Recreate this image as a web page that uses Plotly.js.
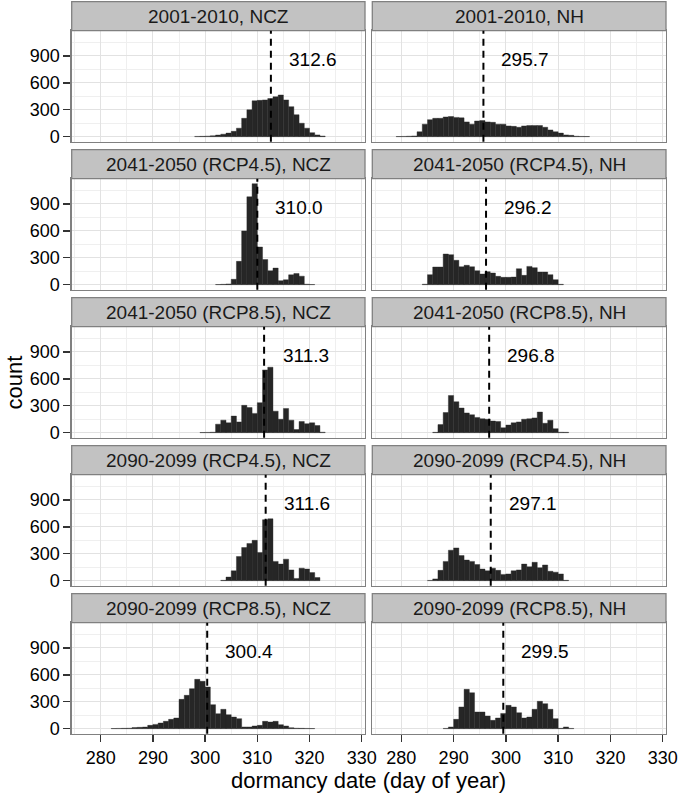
<!DOCTYPE html>
<html><head><meta charset="utf-8">
<script src="https://cdn.plot.ly/plotly-3.0.1.min.js"></script>
<style>html,body{margin:0;padding:0;background:#fff}</style>
</head><body><div id="chart" style="width:680px;height:794px"></div>
<script>
// ---- data ----
const panelTitles = ["2001-2010, NCZ","2001-2010, NH","2041-2050 (RCP4.5), NCZ","2041-2050 (RCP4.5), NH",
  "2041-2050 (RCP8.5), NCZ","2041-2050 (RCP8.5), NH","2090-2099 (RCP4.5), NCZ","2090-2099 (RCP4.5), NH",
  "2090-2099 (RCP8.5), NCZ","2090-2099 (RCP8.5), NH"];
const panelMeans = [312.6, 295.7, 310.0, 296.2, 311.3, 296.8, 311.6, 297.1, 300.4, 299.5];
const xTickVals = [280, 290, 300, 310, 320, 330];
const yTickVals = [0, 300, 600, 900];

// first day of each histogram (bin width = 1 day) and counts
const ncz2001Start = 298;
const ncz2001Counts = [3,4,6,10,18,28,40,60,95,205,300,400,405,410,425,445,465,410,335,245,150,95,45,20,7];
const nh2001Start = 279;
const nh2001Counts = [2,3,5,8,55,140,190,205,205,220,225,215,210,165,140,175,180,165,160,140,140,120,115,105,120,125,125,125,105,75,55,40,20,15,5,3,2];
const ncz4145Start = 302;
const ncz4145Counts = [2,4,8,60,260,600,980,1126,420,280,155,185,45,55,110,125,95,5,2];
const nh4145Start = 284;
const nh4145Counts = [5,112,197,197,342,335,272,200,216,200,156,119,145,130,93,82,82,85,178,104,204,190,141,141,112,56,4];
const ncz4185Start = 299;
const ncz4185Counts = [2,3,5,95,140,110,185,120,305,280,215,335,700,730,240,150,270,140,35,125,100,110,80,5];
const nh4185Start = 286;
const nh4185Counts = [4,90,225,415,345,275,220,200,170,155,150,130,125,55,85,110,120,150,155,165,230,105,140,45,5,4];
const ncz9045Start = 303;
const ncz9045Counts = [4,40,110,270,370,415,450,315,680,690,215,185,240,120,25,140,130,90,35];
const nh9045Start = 285;
const nh9045Counts = [3,20,115,215,340,365,280,230,215,180,130,110,140,115,70,75,110,120,185,155,205,145,175,105,95,75,4];
const ncz9085Start = 282;
const ncz9085Counts = [2,3,4,5,12,15,18,37,48,63,82,104,119,327,372,446,550,528,465,268,167,216,156,130,112,19,19,30,37,82,74,82,45,30,11,5,4,3,2];
const nh9085Start = 288;
const nh9085Counts = [3,19,104,242,439,401,186,186,141,93,119,170,260,242,178,119,130,216,305,279,216,112,4,19,3];

const panelStarts = [ncz2001Start, nh2001Start, ncz4145Start, nh4145Start, ncz4185Start, nh4185Start, ncz9045Start, nh9045Start, ncz9085Start, nh9085Start];
const panelCounts = [ncz2001Counts, nh2001Counts, ncz4145Counts, nh4145Counts, ncz4185Counts, nh4185Counts, ncz9045Counts, nh9045Counts, ncz9085Counts, nh9085Counts];

// ---- layout geometry (pixels) ----
const W = 680, H = 794;
const colX = [[71.7, 365], [372.3, 666]];
const stripTop0 = 1.7, stripH = 29, plotH = 111, rowStep = 148;
const xRange = [274.44, 330.63];
const yRange = [-56, 1182];
const FONT = "Liberation Sans, Arial, Helvetica, sans-serif";

const traces = [];
const layout = {
  width: W, height: H, margin: {l:0, r:0, t:0, b:0},
  paper_bgcolor: '#fff', plot_bgcolor: '#fff', showlegend: false,
  font: {family: FONT, color: '#000'},
  shapes: [], annotations: []
};

for (let k = 0; k < 10; k++) {
  const r = Math.floor(k / 2), c = k % 2;
  const n = k === 0 ? '' : String(k + 1);
  const stripTop = stripTop0 + r * rowStep;
  const plotTop = stripTop + stripH;
  const plotBot = plotTop + plotH;
  const xs = panelCounts[k].map((v, i) => panelStarts[k] + i + 0.5);
  traces.push({
    type: 'bar', x: xs, y: panelCounts[k], width: 1,
    xaxis: 'x' + n, yaxis: 'y' + n,
    marker: {color: '#262626', line: {color: '#262626', width: 0.4}},
    hoverinfo: 'skip'
  });
  layout['xaxis' + n] = {
    domain: [colX[c][0] / W, colX[c][1] / W], range: xRange, anchor: 'y' + n,
    tickvals: xTickVals, showticklabels: r === 4, ticks: r === 4 ? 'outside' : '',
    ticklen: 7, tickwidth: 1.4, tickcolor: '#333',
    tickfont: {size: 18, color: '#000', family: FONT},
    showgrid: true, gridcolor: '#e2e2e2', gridwidth: 1,
    minor: {tickvals: [275, 285, 295, 305, 315, 325], showgrid: true, gridcolor: '#efefef', gridwidth: 1},
    showline: true, mirror: true, linecolor: '#808080', linewidth: 1.3, zeroline: false, fixedrange: true
  };
  layout['yaxis' + n] = {
    domain: [1 - plotBot / H, 1 - plotTop / H], range: yRange, anchor: 'x' + n,
    tickvals: yTickVals, showticklabels: c === 0, ticks: c === 0 ? 'outside' : '',
    ticklen: 7, tickwidth: 1.4, tickcolor: '#333',
    tickfont: {size: 18, color: '#000', family: FONT},
    showgrid: true, gridcolor: '#e2e2e2', gridwidth: 1,
    minor: {tickvals: [150, 450, 750, 1050], showgrid: true, gridcolor: '#efefef', gridwidth: 1},
    showline: true, mirror: true, linecolor: '#808080', linewidth: 1.3, zeroline: false, fixedrange: true
  };
  // strip
  layout.shapes.push({
    type: 'rect', xref: 'paper', yref: 'paper', layer: 'above',
    x0: colX[c][0] / W, x1: colX[c][1] / W,
    y0: 1 - plotTop / H, y1: 1 - stripTop / H,
    fillcolor: '#c2c2c2', line: {color: '#808080', width: 1.3}
  });
  layout.annotations.push({
    xref: 'paper', yref: 'paper', x: (colX[c][0] + colX[c][1]) / 2 / W,
    y: 1 - (stripTop + stripH / 2) / H, xanchor: 'center', yanchor: 'middle',
    text: panelTitles[k], showarrow: false, font: {size: 19, color: '#1a1a1a', family: FONT}
  });
  // mean line
  layout.shapes.push({
    type: 'line', xref: 'x' + n, yref: 'y' + n + ' domain',
    x0: panelMeans[k], x1: panelMeans[k], y0: 0, y1: 1,
    line: {color: '#000', width: 2, dash: '7px,5px'}
  });
  layout.annotations.push({
    xref: 'x' + n, yref: 'y' + n, x: panelMeans[k] + 8, y: 860,
    xanchor: 'center', yanchor: 'middle', showarrow: false,
    text: panelMeans[k].toFixed(1), font: {size: 19, color: '#000', family: FONT}
  });
}

// axis titles
layout.annotations.push({
  xref: 'paper', yref: 'paper', x: 13.5 / W, y: 1 - 383 / H, textangle: -90,
  xanchor: 'center', yanchor: 'middle', showarrow: false, borderpad: 0,
  text: 'count', font: {size: 22, color: '#000', family: FONT}
});
layout.annotations.push({
  xref: 'paper', yref: 'paper', x: 368.6 / W, y: 1 - 780 / H,
  xanchor: 'center', yanchor: 'middle', showarrow: false, borderpad: 0,
  text: 'dormancy date (day of year)', font: {size: 22, color: '#000', family: FONT}
});

Plotly.newPlot('chart', traces, layout, {staticPlot: true, displayModeBar: false});
</script>
</body></html>
